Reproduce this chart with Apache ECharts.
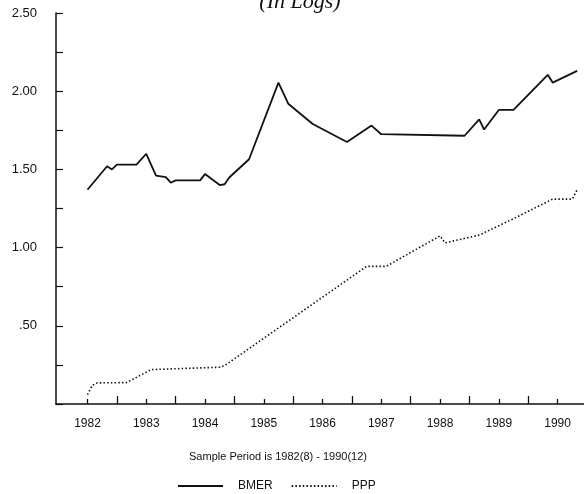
<!DOCTYPE html>
<html>
<head>
<meta charset="utf-8">
<script src="https://cdn.jsdelivr.net/npm/echarts@6/dist/echarts.min.js"></script>
<style>
html, body { margin: 0; padding: 0; background: #fff; }
#chart { width: 584px; height: 494px; }
</style>
</head>
<body>
<div id="chart"></div>
<script>
// x = months since 1982(8)
var bmerMonths = [0, 4, 5, 6, 10, 12, 14, 16, 17, 18, 23, 24, 27, 28, 29, 33, 39, 41, 46, 53, 58, 60, 77, 80, 81, 84, 87, 94, 95, 100];
var bmerValues = [1.37, 1.52, 1.50, 1.53, 1.53, 1.60, 1.46, 1.45, 1.415, 1.43, 1.43, 1.47, 1.40, 1.405, 1.45, 1.565, 2.055, 1.92, 1.79, 1.675, 1.78, 1.725, 1.715, 1.82, 1.755, 1.88, 1.88, 2.105, 2.055, 2.13];

var pppMonths = [0, 1, 2, 8, 13, 27, 28, 57, 61, 72, 73, 80, 87, 95, 99, 100];
var pppValues = [0.06, 0.12, 0.135, 0.137, 0.22, 0.235, 0.245, 0.88, 0.88, 1.075, 1.03, 1.08, 1.185, 1.31, 1.31, 1.37];

var yearMonths = [0, 12, 24, 36, 48, 60, 72, 84, 96];
var yearLabels = ['1982', '1983', '1984', '1985', '1986', '1987', '1988', '1989', '1990'];
var midYearMonths = [6, 18, 30, 42, 54, 66, 78, 90];

var yLabelValues = [0.5, 1.0, 1.5, 2.0, 2.5];
var yTickLabels = ['.50', '1.00', '1.50', '2.00', '2.50'];

var sansFont = "'Liberation Sans', Arial, sans-serif";
var ink = '#111';

function zip(xs, ys) {
    return xs.map(function (x, i) { return [x, ys[i]]; });
}

var myChart = echarts.init(document.getElementById('chart'));

var option = {
    animation: false,
    backgroundColor: '#fff',
    grid: { left: 56, right: 0, top: 13, bottom: 90 },
    xAxis: [
        {
            type: 'value',
            position: 'bottom',
            min: -6.43,
            max: 101.4,
            splitLine: { show: false },
            axisLine: { onZero: false, lineStyle: { color: ink, width: 1.5 } },
            axisTick: { customValues: yearMonths, inside: true, length: 5, lineStyle: { color: ink, width: 1.3 } },
            axisLabel: {
                customValues: yearMonths,
                margin: 14,
                fontFamily: sansFont,
                fontSize: 12,
                color: ink,
                formatter: function (v) { return yearLabels[yearMonths.indexOf(v)]; }
            }
        },
        {
            type: 'value',
            position: 'bottom',
            min: -6.43,
            max: 101.4,
            splitLine: { show: false },
            axisLine: { show: false, onZero: false },
            axisTick: { customValues: midYearMonths, inside: true, length: 8, lineStyle: { color: ink, width: 1.3 } },
            axisLabel: { show: false }
        }
    ],
    yAxis: {
        type: 'value',
        min: 0,
        max: 2.5,
        interval: 0.25,
        splitLine: { show: false },
        axisLine: { show: true, onZero: false, lineStyle: { color: ink, width: 1.5 } },
        axisTick: { show: true, inside: true, length: 7, lineStyle: { color: ink, width: 1.2 } },
        axisLabel: {
            customValues: yLabelValues,
            margin: 19,
            fontFamily: sansFont,
            fontSize: 13,
            color: ink,
            formatter: function (v) { return yTickLabels[yLabelValues.indexOf(v)]; }
        }
    },
    legend: {
        left: 172,
        top: 475,
        itemWidth: 45,
        itemHeight: 10,
        itemGap: 18,
        itemStyle: { opacity: 0 },
        textStyle: { fontFamily: sansFont, fontSize: 12, color: ink, padding: [0, 0, 0, 10] },
        data: ['BMER', 'PPP']
    },
    graphic: [
        {
            type: 'text',
            x: 300,
            y: 2,
            style: {
                text: '(In Logs)',
                font: 'italic 22px "Liberation Serif", "DejaVu Serif", serif',
                fill: ink,
                textAlign: 'center',
                textVerticalAlign: 'middle'
            }
        },
        {
            type: 'text',
            x: 278,
            y: 457,
            style: {
                text: 'Sample Period is 1982(8) - 1990(12)',
                font: '11px ' + sansFont,
                fill: ink,
                textAlign: 'center',
                textVerticalAlign: 'middle'
            }
        }
    ],
    series: [
        {
            name: 'BMER',
            type: 'line',
            symbol: 'none',
            data: zip(bmerMonths, bmerValues),
            lineStyle: { color: ink, width: 1.8 },
            itemStyle: { color: ink }
        },
        {
            name: 'PPP',
            type: 'line',
            symbol: 'none',
            data: zip(pppMonths, pppValues),
            lineStyle: { color: ink, width: 1.6, type: [1.5, 2.2] },
            itemStyle: { color: ink }
        }
    ]
};

myChart.setOption(option);
</script>
</body>
</html>
